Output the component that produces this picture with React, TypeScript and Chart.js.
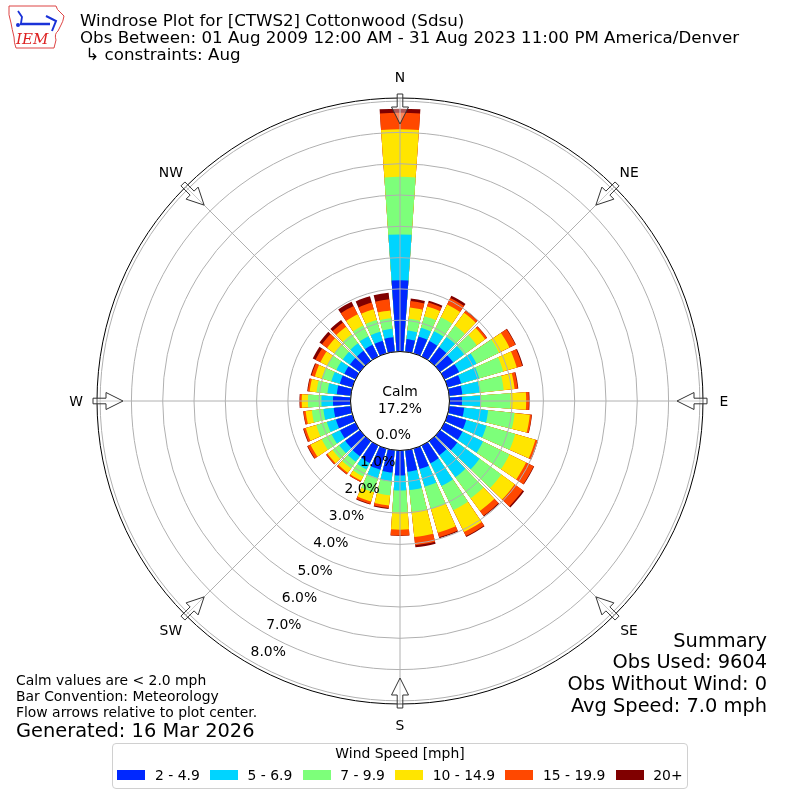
import React, { useEffect, useRef } from "react";
import { Chart, registerables } from "chart.js";

Chart.register(...registerables);

// ---------------- data ----------------
const directions = [
  0, 10, 20, 30, 40, 50, 60, 70, 80, 90, 100, 110, 120, 130, 140, 150, 160, 170,
  180, 190, 200, 210, 220, 230, 240, 250, 260, 270, 280, 290, 300, 310, 320, 330, 340, 350,
];
const speedBins = ["2 - 4.9", "5 - 6.9", "7 - 9.9", "10 - 14.9", "15 - 19.9", "20+"];
const binColors = ["#0028ff", "#00d4ff", "#7dff7a", "#ffe500", "#ff4800", "#800000"];

// frequency (% of all obs) per direction for each speed bin
const freq2to5 = [
  2.28, 0.41, 0.56, 0.55, 0.55, 0.52, 0.52, 0.45, 0.42, 0.4, 0.48, 0.62, 0.64, 0.68, 0.56, 0.63, 0.68, 0.69,
  0.8, 0.72, 0.7, 0.62, 0.6, 0.58, 0.55, 0.55, 0.55, 0.56, 0.45, 0.42, 0.4, 0.4, 0.4, 0.42, 0.42, 0.47,
];
const freq5to7 = [
  1.46, 0.27, 0.29, 0.35, 0.4, 0.43, 0.62, 0.6, 0.56, 0.59, 0.77, 0.67, 0.73, 0.88, 0.87, 0.81, 0.59, 0.59,
  0.48, 0.28, 0.28, 0.23, 0.22, 0.24, 0.3, 0.3, 0.33, 0.37, 0.3, 0.28, 0.28, 0.28, 0.3, 0.3, 0.3, 0.27,
];
const freq7to10 = [
  1.84, 0.38, 0.39, 0.5, 0.45, 0.5, 0.8, 0.8, 0.77, 0.96, 0.85, 0.96, 0.94, 0.86, 0.83, 0.86, 0.74, 0.7,
  0.69, 0.45, 0.47, 0.25, 0.26, 0.26, 0.35, 0.35, 0.37, 0.43, 0.35, 0.32, 0.32, 0.34, 0.35, 0.38, 0.39, 0.34,
];
const freq10to15 = [
  1.52, 0.36, 0.32, 0.45, 0.5, 0.33, 0.37, 0.45, 0.35, 0.5, 0.49, 0.67, 0.59, 0.53, 0.5, 0.78, 0.79, 0.81,
  0.56, 0.33, 0.31, 0.15, 0.17, 0.2, 0.4, 0.35, 0.2, 0.2, 0.22, 0.23, 0.25, 0.28, 0.3, 0.4, 0.36, 0.25,
];
const freq15to20 = [
  0.53, 0.21, 0.13, 0.23, 0.08, 0.07, 0.21, 0.18, 0.1, 0.09, 0.06, 0.08, 0.27, 0.32, 0.19, 0.14, 0.15, 0.26,
  0.19, 0.08, 0.08, 0.05, 0.06, 0.05, 0.1, 0.07, 0.07, 0.06, 0.06, 0.11, 0.17, 0.2, 0.17, 0.3, 0.22, 0.36,
];
const freq20plus = [
  0.13, 0.08, 0.06, 0.08, 0.02, 0.01, 0.02, 0.03, 0.02, 0.02, 0.01, 0.01, 0.02, 0.05, 0.03, 0.03, 0.03, 0.07,
  0.01, 0.03, 0.02, 0.0, 0.01, 0.01, 0.02, 0.02, 0.01, 0.01, 0.02, 0.03, 0.1, 0.1, 0.1, 0.15, 0.21, 0.21,
];

const ringTicks = [0, 1, 2, 3, 4, 5, 6, 7, 8];
const compassLabels = ["N", "NE", "E", "SE", "S", "SW", "W", "NW"];
const compassAngles = [0, 45, 90, 135, 180, 225, 270, 315];
const calmPercent = 17.2;

const titleLines = [
  "Windrose Plot for [CTWS2] Cottonwood (Sdsu)",
  "Obs Between: 01 Aug 2009 12:00 AM - 31 Aug 2023 11:00 PM America/Denver",
  " \u21b3 constraints: Aug",
];
const noteLines = [
  "Calm values are < 2.0 mph",
  "Bar Convention: Meteorology",
  "Flow arrows relative to plot center.",
];
const generatedText = "Generated: 16 Mar 2026";
const summaryLines = ["Summary", "Obs Used: 9604", "Obs Without Wind: 0", "Avg Speed: 7.0 mph"];
const legendTitle = "Wind Speed [mph]";

// ---------------- chart config helpers ----------------
const FONT = "'DejaVu Sans', sans-serif";
const R_MIN = -1.581;
const R_MAX = 8.1;
const BAR_ANGLE = 8;
const GAP_ANGLE = 2;
const TICK_LABEL_ANGLE = 210;

const decorPlugin = {
  id: "windroseDecor",
  afterDraw(chart: any) {
    const scale = chart.scales.r;
    const ctx = chart.ctx as CanvasRenderingContext2D;
    const cx = scale.xCenter;
    const cy = scale.yCenter;
    const R = scale.drawingArea;
    const r0 = scale.getDistanceFromCenterForValue(0);
    const pt = (deg: number, r: number, off = 0) => {
      const a = (deg * Math.PI) / 180;
      return [cx + r * Math.sin(a) + off * Math.cos(a), cy - r * Math.cos(a) + off * Math.sin(a)];
    };
    ctx.save();
    // spokes
    ctx.strokeStyle = "#b0b0b0";
    ctx.lineWidth = 1;
    compassAngles.forEach((d) => {
      const [x1, y1] = pt(d, r0);
      const [x2, y2] = pt(d, R);
      ctx.beginPath();
      ctx.moveTo(x1, y1);
      ctx.lineTo(x2, y2);
      ctx.stroke();
    });
    // outer frame
    ctx.strokeStyle = "#000";
    ctx.lineWidth = 1;
    ctx.beginPath();
    ctx.arc(cx, cy, R, 0, Math.PI * 2);
    ctx.stroke();
    // calm circle
    ctx.fillStyle = "#fff";
    ctx.beginPath();
    ctx.arc(cx, cy, r0, 0, Math.PI * 2);
    ctx.fill();
    ctx.strokeStyle = "#000";
    ctx.stroke();
    // flow arrows
    compassAngles.forEach((d) => {
      const tip = R - 26;
      const base = R - 9;
      const tail = R + 4;
      const hw = 8.5;
      const tw = 2.8;
      const poly = [
        pt(d, tip, 0),
        pt(d, base, hw),
        pt(d, base, tw),
        pt(d, tail, tw),
        pt(d, tail, -tw),
        pt(d, base, -tw),
        pt(d, base, -hw),
      ];
      ctx.beginPath();
      poly.forEach(([x, y], i) => (i === 0 ? ctx.moveTo(x, y) : ctx.lineTo(x, y)));
      ctx.closePath();
      ctx.fillStyle = "rgba(255,255,255,0.35)";
      ctx.fill();
      ctx.strokeStyle = "#333";
      ctx.lineWidth = 1;
      ctx.stroke();
    });
    // compass labels
    ctx.fillStyle = "#000";
    ctx.font = `13.9px ${FONT}`;
    ctx.textAlign = "center";
    ctx.textBaseline = "alphabetic";
    compassLabels.forEach((lab, i) => {
      const [x, y] = pt(compassAngles[i], R + 21);
      ctx.fillText(lab, x, y + 5);
    });
    // ring labels
    ctx.textAlign = "left";
    ringTicks.forEach((v) => {
      const r = scale.getDistanceFromCenterForValue(v);
      const [x, y] = pt(TICK_LABEL_ANGLE, r);
      ctx.fillText(`${v.toFixed(1)}%`, x + 0.5, y - 4.8);
    });
    // calm text
    ctx.textAlign = "center";
    ctx.fillText("Calm", cx, cy - 5);
    ctx.fillText(`${calmPercent.toFixed(1)}%`, cx, cy + 11.6);
    ctx.restore();
  },
};

function WindroseCanvas() {
  const ref = useRef<HTMLCanvasElement | null>(null);
  useEffect(() => {
    if (!ref.current) return;
    const bins = [freq2to5, freq5to7, freq7to10, freq10to15, freq15to20, freq20plus];
    const cumulative: number[][] = [];
    bins.forEach((arr, k) => {
      cumulative.push(arr.map((v, i) => (k === 0 ? v : cumulative[k - 1][i] + v)));
    });
    const labels: string[] = [];
    directions.forEach((d) => {
      labels.push(`${d}`);
      labels.push("");
    });
    const datasets = cumulative.map((cum, k) => {
      const data: number[] = [];
      cum.forEach((v) => {
        data.push(v);
        data.push(0);
      });
      return {
        label: speedBins[k],
        data,
        backgroundColor: (c: any) => (c.dataIndex % 2 === 0 ? binColors[k] : "rgba(0,0,0,0)"),
        borderWidth: 0,
        angle: (c: any) => (c.dataIndex % 2 === 0 ? BAR_ANGLE : GAP_ANGLE),
      };
    });
    const chart = new Chart(ref.current, {
      type: "polarArea",
      data: { labels, datasets: datasets as any },
      options: {
        responsive: false,
        animation: false,
        devicePixelRatio: 1,
        layout: { padding: { left: 97, right: 97, top: 98, bottom: 96 } },
        plugins: {
          legend: { display: false },
          tooltip: { enabled: false },
          title: { display: false },
        },
        elements: { arc: { borderWidth: 0 } },
        scales: {
          r: {
            min: R_MIN,
            max: R_MAX,
            startAngle: -BAR_ANGLE / 2,
            beginAtZero: false,
            ticks: { display: false },
            afterBuildTicks: (s: any) => {
              s.ticks = ringTicks.map((v) => ({ value: v }));
            },
            grid: { circular: true, color: "#b0b0b0", lineWidth: 1, z: 1 },
            angleLines: { display: false },
            pointLabels: { display: false },
          },
        },
      } as any,
      plugins: [decorPlugin],
    });
    return () => chart.destroy();
  }, []);
  return (
    <canvas
      ref={ref}
      width={800}
      height={800}
      style={{ position: "absolute", left: 0, top: 0, width: 800, height: 800 }}
    />
  );
}

function TextAt(props: {
  left?: number;
  right?: number;
  cy: number;
  size: number;
  children: React.ReactNode;
}) {
  const lh = Math.round(props.size * 1.2);
  return (
    <div
      style={{
        position: "absolute",
        left: props.left,
        right: props.right,
        top: props.cy - lh / 2,
        fontFamily: FONT,
        fontSize: props.size,
        lineHeight: `${lh}px`,
        whiteSpace: "pre",
        color: "#000",
        textAlign: props.right !== undefined ? "right" : "left",
      }}
    >
      {props.children}
    </div>
  );
}

function Logo() {
  return (
    <svg
      width={60}
      height={48}
      viewBox="0 0 60 48"
      style={{ position: "absolute", left: 6, top: 3 }}
    >
      <path
        d="M3 3 L50 3 Q51 7 54 9 L58 13 Q57 19 55 22 L52 28 Q48 31 50 37 L48 45 L10 45 Q8 40 8 34 Q6 26 5 20 Q2 12 3 3 Z"
        fill="none"
        stroke="#d44"
        strokeWidth={1}
      />
      <line x1={14} y1={21} x2={44} y2={21} stroke="#1a32d8" strokeWidth={2.5} />
      <path d="M12 8 L16 14 L15 20" fill="none" stroke="#1a32d8" strokeWidth={1.8} />
      <circle cx={12} cy={22} r={2} fill="#1a32d8" />
      <path d="M40 13 L46 16 L50 18 L48 23 L46 28" fill="none" stroke="#1a32d8" strokeWidth={2} />
      <text
        x={10}
        y={41}
        fill="#d22"
        fontFamily="'DejaVu Serif', 'Liberation Serif', serif"
        fontStyle="italic"
        fontSize={15}
      >
        IEM
      </text>
    </svg>
  );
}

function Legend() {
  return (
    <div
      style={{
        position: "absolute",
        left: 112,
        top: 743,
        width: 576,
        height: 46,
        boxSizing: "border-box",
        border: "1px solid #d0d0d0",
        borderRadius: 4,
        background: "#fff",
        fontFamily: FONT,
        fontSize: 13.9,
        color: "#000",
      }}
    >
      <div
        style={{
          position: "absolute",
          left: 0,
          right: 0,
          top: 0,
          lineHeight: "18px",
          textAlign: "center",
        }}
      >
        {legendTitle}
      </div>
      <div
        style={{
          position: "absolute",
          left: 0,
          right: 0,
          top: 22,
          height: 18,
          display: "flex",
          justifyContent: "center",
          alignItems: "center",
          gap: 10.3,
          lineHeight: "18px",
          whiteSpace: "nowrap",
        }}
      >
        {speedBins.map((b, i) => (
          <div key={b} style={{ display: "flex", alignItems: "center" }}>
            <span
              style={{
                display: "inline-block",
                width: 28,
                height: 10,
                background: binColors[i],
                marginRight: 9.5,
              }}
            />
            <span>{b}</span>
          </div>
        ))}
      </div>
    </div>
  );
}

export default function App() {
  return (
    <div
      style={{
        position: "absolute",
        left: 0,
        top: 0,
        width: 800,
        height: 800,
        background: "#fff",
        overflow: "hidden",
      }}
    >
      <WindroseCanvas />
      <Logo />
      {titleLines.map((t, i) => (
        <TextAt key={t} left={80} cy={21 + i * 17} size={16.67}>
          {t}
        </TextAt>
      ))}
      {noteLines.map((t, i) => (
        <TextAt key={t} left={16} cy={680 + i * 16} size={13.9}>
          {t}
        </TextAt>
      ))}
      <TextAt left={16} cy={730} size={19.4}>
        {generatedText}
      </TextAt>
      {summaryLines.map((t, i) => (
        <TextAt key={t} right={33} cy={640 + i * 21.7} size={19.4}>
          {t}
        </TextAt>
      ))}
      <Legend />
    </div>
  );
}
